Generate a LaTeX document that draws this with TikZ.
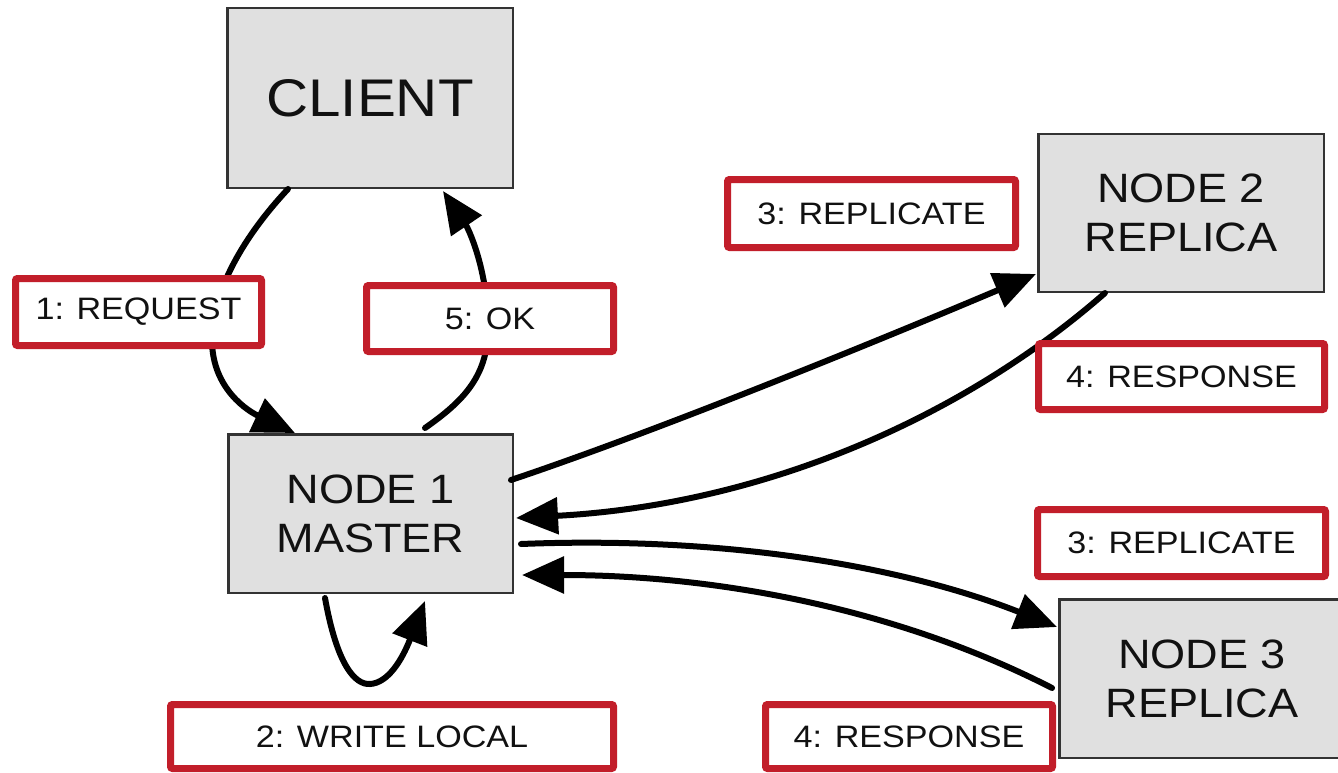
\documentclass[tikz,border=0pt]{standalone}
\usepackage{fontspec}
\setmainfont[FakeStretch=1.1]{Liberation Sans}
\usetikzlibrary{arrows.meta}
\definecolor{boxgray}{HTML}{E0E0E0}
\definecolor{boxline}{HTML}{333333}
\definecolor{tagred}{HTML}{C21E2A}
\definecolor{ink}{HTML}{111111}
\begin{document}
\begin{tikzpicture}[x=1pt,y=-1pt,
  server/.style={draw=boxline, line width=2.5pt, fill=boxgray, align=center,
    inner sep=0pt, text=ink, font=\fontsize{41}{49}\selectfont},
  tag/.style={draw=tagred, line width=7pt, fill=white, rounded corners=2pt,
    inner sep=0pt, text=ink, font=\fontsize{31}{37}\selectfont},
  flow/.style={line width=6pt, line cap=round, draw=black,
    -{Triangle[length=42pt,width=36pt]}}]
\clip (0,0) rectangle (1338,773);
\fill[white] (0,0) rectangle (1338,773);

% servers
\node[server, minimum width=285.5pt, minimum height=179.5pt,
      font=\fontsize{53}{60}\selectfont] (client) at (370,98) {CLIENT};
\node[server, minimum width=284.5pt, minimum height=158.5pt] (n1) at (370.5,513.5) {NODE 1\\MASTER};
\node[server, minimum width=285.5pt, minimum height=157.5pt] (n2) at (1181,213) {NODE 2\\REPLICA};
\node[server, minimum width=285.5pt, minimum height=158.5pt] (n3) at (1202,678.5) {NODE 3\\REPLICA};

% connectors
\draw[flow] ([xshift=62pt]client.south west) .. controls (245,235) and (212,290) .. (212,340)
  .. controls (212,390) and (250,412) .. ([xshift=68pt]n1.north west);
\draw[flow] ([xshift=198pt,yshift=5pt]n1.north west) .. controls (468,398) and (490,372) .. (488,320)
  .. controls (486,265) and (468,228) .. ([xshift=217pt,yshift=-2pt]client.south west);
\draw[flow] ([xshift=98pt,yshift=-4pt]n1.south west) .. controls (337,665) and (355,685) .. (370,684)
  .. controls (388,683) and (402,660) .. ([xshift=198pt,yshift=-7pt]n1.south west);
\draw[flow] ([xshift=-3pt,yshift=-47pt]n1.north east) .. controls (660,430) and (880,340) .. ([xshift=-1pt,yshift=19pt]n2.south west);
\draw[flow] ([xshift=68pt]n2.south west) .. controls (960,420) and (760,505) .. ([xshift=2pt,yshift=-85pt]n1.north east);
\draw[flow] ([xshift=7pt,yshift=-111pt]n1.north east) .. controls (720,536) and (900,565) .. ([xshift=-1pt,yshift=-29pt]n3.north west);
\draw[flow] ([xshift=-6pt,yshift=-90pt]n3.north west) .. controls (900,610) and (720,575) .. ([xshift=8pt,yshift=-142pt]n1.north east);

% labels
\node[tag, minimum width=246pt, minimum height=67pt] (l1) at (138.5,312) {1: REQUEST};
\node[tag, minimum width=247pt, minimum height=66pt] (l5) at (490,318.5) {5: OK};
\node[tag, minimum width=288pt, minimum height=68pt] (l3a) at (871.5,213.5) {3: REPLICATE};
\node[tag, minimum width=286pt, minimum height=66pt] (l4a) at (1181.5,376.5) {4: RESPONSE};
\node[tag, minimum width=288pt, minimum height=67pt] (l3b) at (1181.5,543) {3: REPLICATE};
\node[tag, minimum width=443pt, minimum height=64pt] (l2) at (392,736.5) {2: WRITE LOCAL};
\node[tag, minimum width=287pt, minimum height=64pt] (l4b) at (909,736.5) {4: RESPONSE};
\end{tikzpicture}
\end{document}
